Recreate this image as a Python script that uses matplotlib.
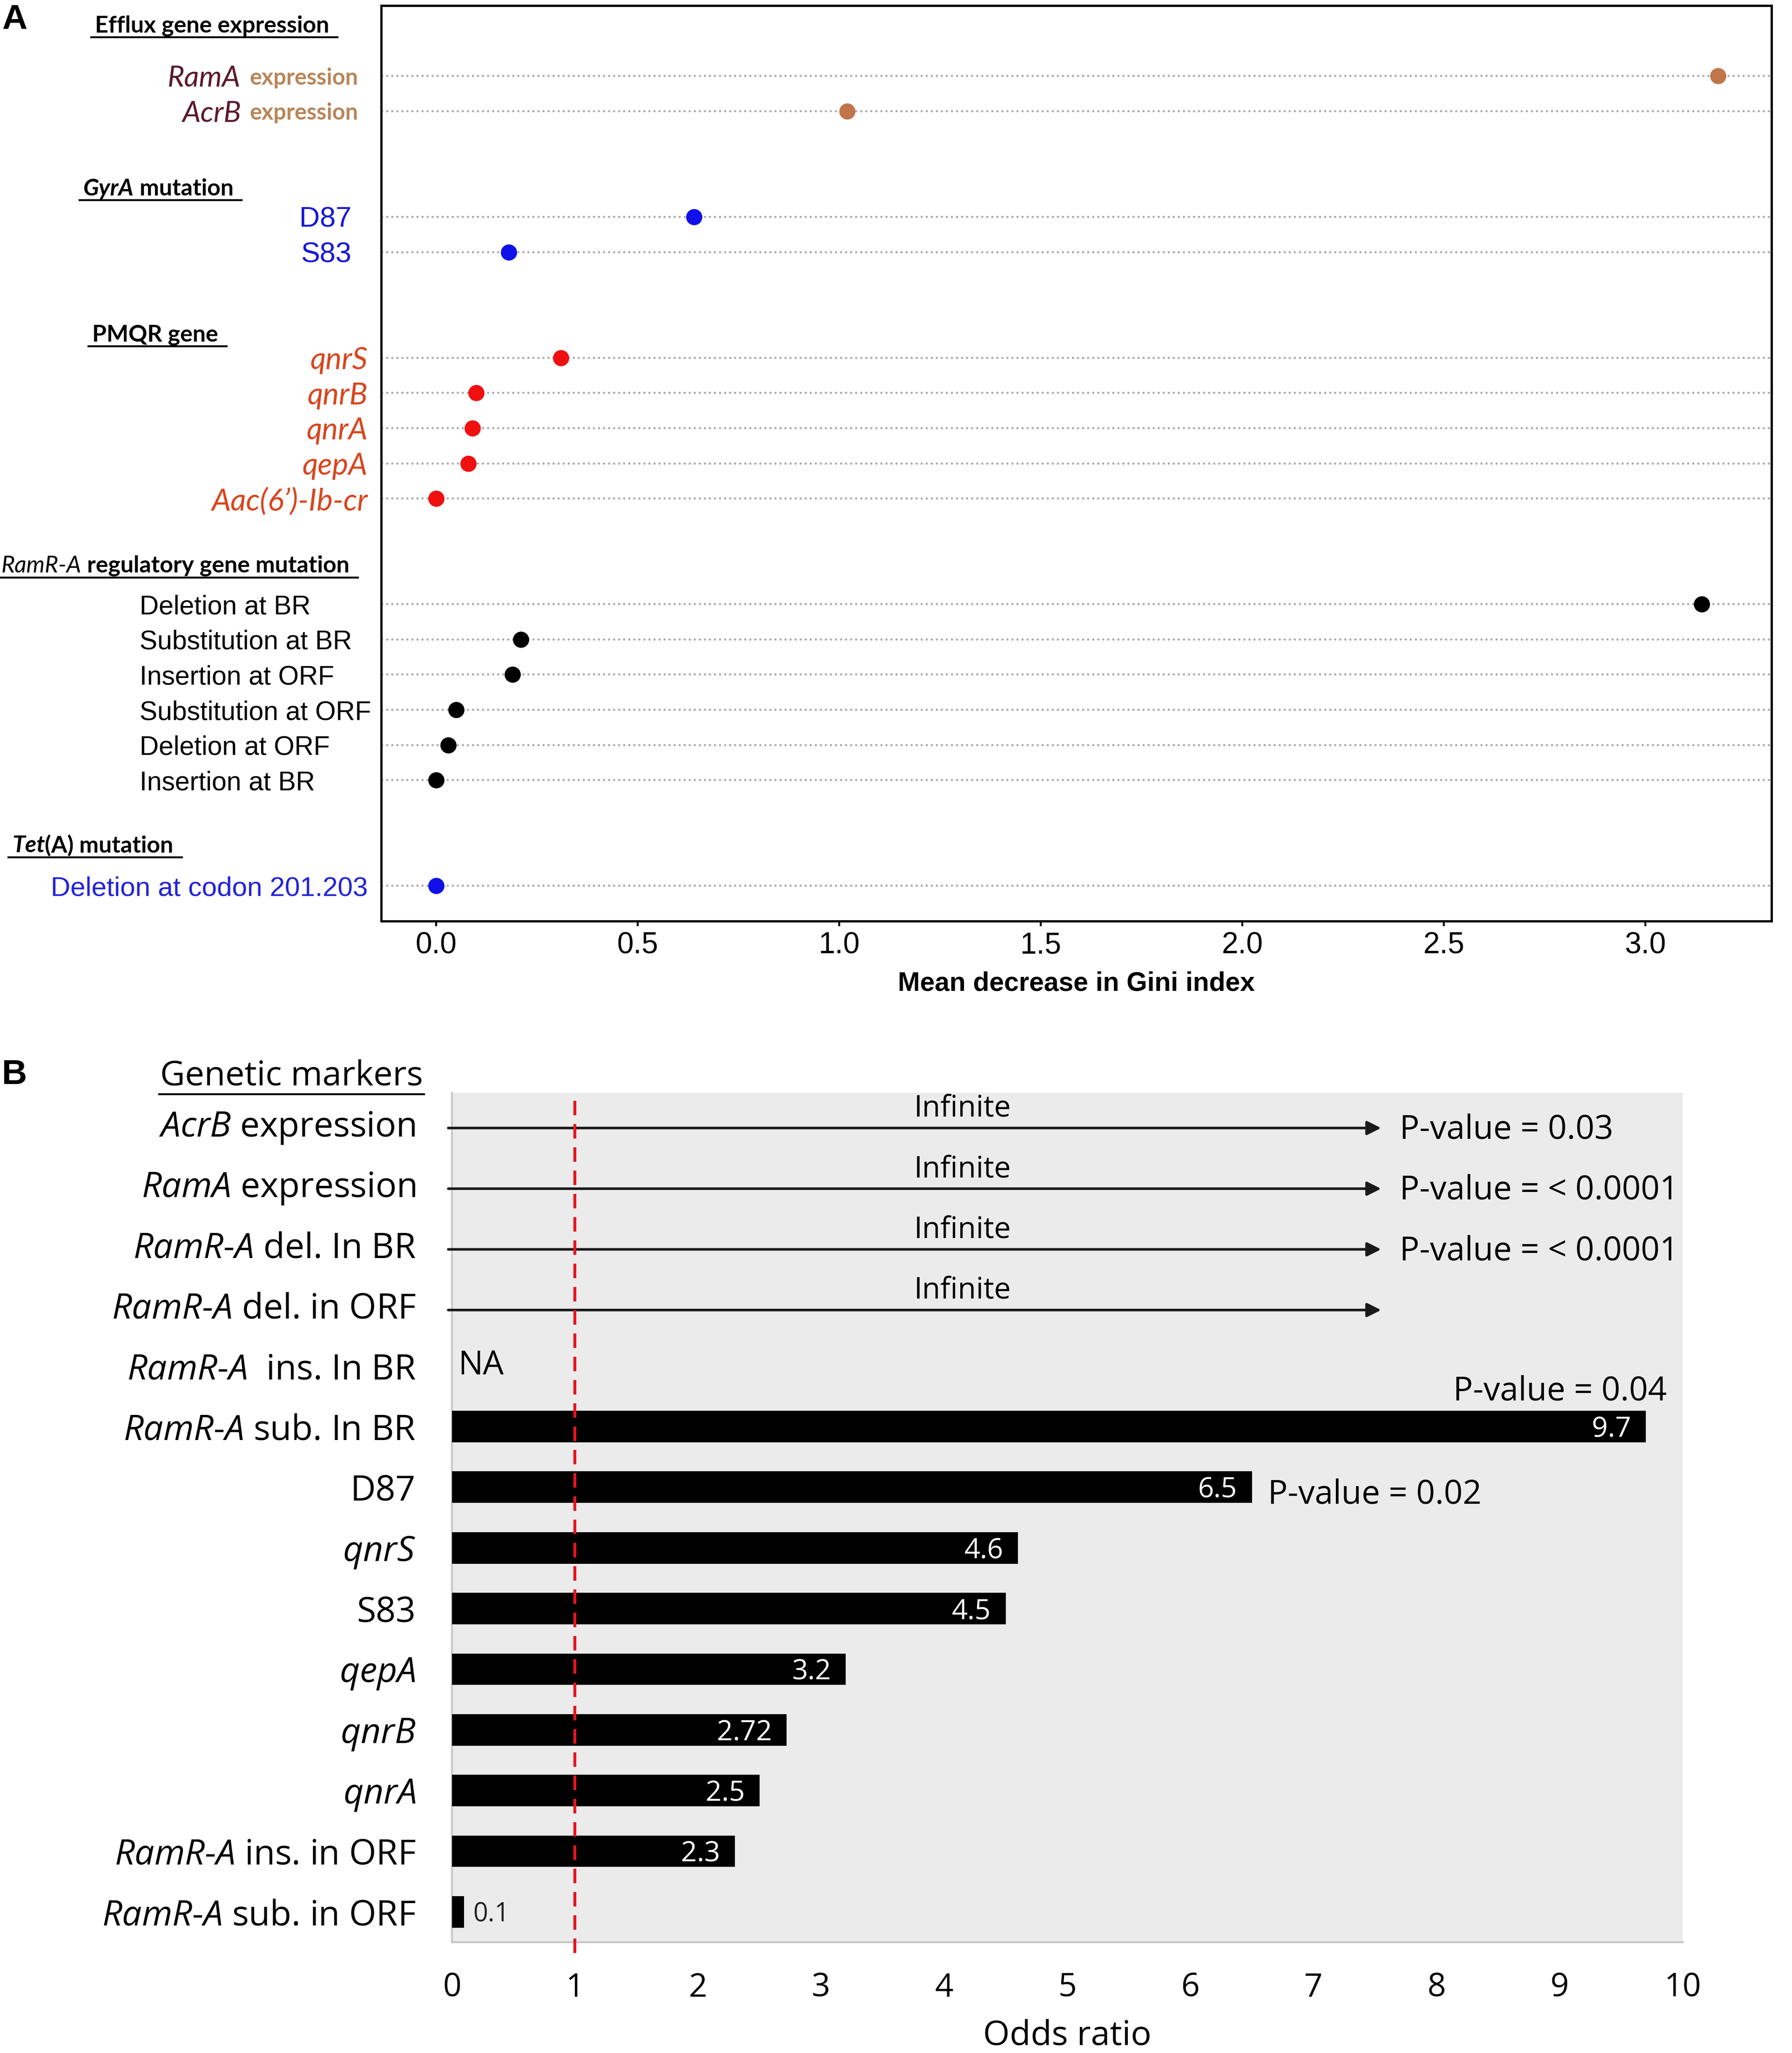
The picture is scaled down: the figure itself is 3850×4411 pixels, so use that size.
import numpy as np
import matplotlib
matplotlib.use("Agg")
import matplotlib.pyplot as plt
from matplotlib.lines import Line2D

plt.rcParams['mathtext.fontset'] = 'custom'
plt.rcParams['mathtext.rm'] = 'Open Sans'
plt.rcParams['mathtext.it'] = 'Open Sans:italic'
plt.rcParams['mathtext.bf'] = 'Open Sans:bold'

W, H = 3850, 4411  # output size in px (dpi 100)

# ---------------- panel A: mean decrease in Gini index ----------------
efflux_genes = ['RamA', 'AcrB']
efflux_gini = [3.18, 1.02]
gyra_sites = ['D87', 'S83']
gyra_gini = [0.64, 0.18]
pmqr_genes = ['qnrS', 'qnrB', 'qnrA', 'qepA', 'Aac(6\u2019)-Ib-cr']
pmqr_gini = [0.31, 0.10, 0.09, 0.08, 0.0]
ramr_muts = ['Deletion at BR', 'Substitution at BR', 'Insertion at ORF',
             'Substitution at ORF', 'Deletion at ORF', 'Insertion at BR']
ramr_gini = [3.14, 0.21, 0.19, 0.05, 0.03, 0.0]
tet_muts = ['Deletion at codon 201.203']
tet_gini = [0.0]
gini_ticks = [0.0, 0.5, 1.0, 1.5, 2.0, 2.5, 3.0]

# ---------------- panel B: odds ratio ----------------
or_markers = [r'$\mathit{AcrB}$ expression',
              r'$\mathit{RamA}$ expression',
              r'$\mathit{RamR}$-$\mathit{A}$ del. In BR',
              r'$\mathit{RamR}$-$\mathit{A}$ del. in ORF',
              r'$\mathit{RamR}$-$\mathit{A}$  ins. In BR',
              r'$\mathit{RamR}$-$\mathit{A}$ sub. In BR',
              'D87',
              r'$\mathit{qnrS}$',
              'S83',
              r'$\mathit{qepA}$',
              r'$\mathit{qnrB}$',
              r'$\mathit{qnrA}$',
              r'$\mathit{RamR}$-$\mathit{A}$ ins. in ORF',
              r'$\mathit{RamR}$-$\mathit{A}$ sub. in ORF']
odds_ratio = [np.inf, np.inf, np.inf, np.inf, np.nan, 9.7, 6.5, 4.6, 4.5,
              3.2, 2.72, 2.5, 2.3, 0.1]
p_values = ['0.03', '< 0.0001', '< 0.0001', None, None, '0.04', '0.02',
            None, None, None, None, None, None, None]
or_ticks = list(range(0, 11))
or_ref = 1

fig = plt.figure(figsize=(W / 100, H / 100), dpi=100)

CAL = 'Lato'
ARIAL = 'Liberation Sans'
OS = 'Open Sans'

# ====================== panel A ======================
AL, AR, AT, AB = 819, 3806, 12, 1979
axA = fig.add_axes([AL / W, 1 - AB / H, (AR - AL) / W, (AB - AT) / H])


def ax_frac(px):
    return (px - AL) / (AR - AL)


maroon, tan = '#5b1a2b', '#b98559'
groups = [
    dict(labels=efflux_genes, vals=efflux_gini, dot='#c0764a', anchor=('right', 770),
         header=[('Efflux gene expression', dict(weight='bold'))], hx=204, hoff=-1.48),
    dict(labels=gyra_sites, vals=gyra_gini, dot='#1010e8', anchor=('right', 755),
         header=[('GyrA', dict(weight='bold', style='italic')), (' mutation', dict(weight='bold'))],
         hx=179, hoff=-0.85),
    dict(labels=pmqr_genes, vals=pmqr_gini, dot='#f01010', anchor=('right', 790),
         header=[('PMQR gene', dict(weight='bold'))], hx=198, hoff=-0.71),
    dict(labels=ramr_muts, vals=ramr_gini, dot='black', anchor=('left', 300),
         header=[('RamR-A', dict(style='italic')), (' regulatory gene mutation', dict(weight='bold'))],
         hx=3, hoff=-1.15),
    dict(labels=tet_muts, vals=tet_gini, dot='#1010e8', anchor=('right', 790),
         header=[('Tet', dict(weight='bold', style='italic')), ('(A) mutation', dict(weight='bold'))],
         hx=26, hoff=-1.2),
]
label_styles = [
    None,
    dict(family=ARIAL, size=44, color='#1616dc'),
    dict(family=CAL, style='italic', size=47, color='#d8461e'),
    dict(family=ARIAL, size=41, color='black'),
    dict(family=ARIAL, size=42, color='#2222dc'),
]

ytr = axA.get_yaxis_transform()
header_texts = []
pos = 0
all_rows = []
for gi, g in enumerate(groups):
    rows = pos + np.arange(len(g['labels']))
    all_rows.extend(rows)
    axA.plot(g['vals'], rows, 'o', color=g['dot'], markersize=24, zorder=3,
             linestyle='none', clip_on=False)
    side, px = g['anchor']
    for r, lab in zip(rows, g['labels']):
        if gi == 0:
            t = axA.text(ax_frac(px), r, 'expression', transform=ytr, ha='right',
                         va='center_baseline', family=CAL, weight='bold', size=35, color=tan)
            axA.annotate(lab, xy=(0, r), xycoords=(t, 'data'), xytext=(-14, 0),
                         textcoords='offset points', ha='right', va='center_baseline',
                         family=CAL, style='italic', size=45, color=maroon)
        else:
            axA.text(ax_frac(px), r, lab, transform=ytr, ha=side, va='center_baseline',
                     **label_styles[gi])
    # group header
    hy = rows[0] + g['hoff']
    pieces = []
    first, kw = g['header'][0]
    t = axA.text(ax_frac(g['hx']), hy, first, transform=ytr, ha='left',
                 va='center_baseline', family=CAL, size=36, color='black', **kw)
    pieces.append(t)
    for s, kw in g['header'][1:]:
        t = axA.annotate(s, xy=(1, hy), xycoords=(t, 'data'), ha='left',
                         va='center_baseline', family=CAL, size=36, color='black', **kw)
        pieces.append(t)
    header_texts.append(pieces)
    pos = rows[-1] + 3

for r in all_rows:
    axA.axhline(r, color='#a8a8a8', lw=3, ls=(0, (1, 1.6)), zorder=1)

axA.set_xlim(-0.136, 3.313)
axA.set_ylim(all_rows[-1] + 1, -2)
axA.set_yticks([])
axA.set_xticks(gini_ticks)
axA.set_xticklabels([f'{v:.1f}' for v in gini_ticks], family=ARIAL, size=46)
axA.tick_params(axis='x', length=8, width=3, pad=8)
for s in axA.spines.values():
    s.set_linewidth(3.5)
axA.set_xlabel('Mean decrease in Gini index', family=ARIAL, weight='bold',
               size=41, labelpad=18)

# ====================== panel B ======================
BL, BR_, BT, BB = 971, 3615, 2348, 4173
axB = fig.add_axes([BL / W, 1 - BB / H, (BR_ - BL) / W, (BB - BT) / H])
axB.set_facecolor('#ebebeb')
n = len(or_markers)
rows = np.arange(n)
odds = np.array(odds_ratio, dtype=float)
fin = np.isfinite(odds)
axB.barh(rows[fin], odds[fin], height=0.52, color='black', zorder=3)

arrow_end = 7.55
for r, v, p in zip(rows, odds, p_values):
    if np.isinf(v):
        axB.annotate('', xy=(arrow_end, r + 0.08), xytext=(-0.03, r + 0.08),
                     arrowprops=dict(arrowstyle='-|>', color='#1a1a1a', lw=4,
                                     mutation_scale=45, shrinkA=0, shrinkB=0),
                     annotation_clip=False, zorder=4)
        axB.text(4.15, r - 0.24, 'Infinite', ha='center', va='center',
                 family=OS, size=46)
        if p:
            axB.text(arrow_end + 0.15, r + 0.12, f'P-value = {p}', ha='left',
                     va='center', family=OS, size=51)
    elif np.isnan(v):
        axB.text(0.05, r, 'NA', ha='left', va='center', family=OS, size=51)
    else:
        if v >= 1:
            axB.text(v - 0.12, r + 0.05, f'{v:g}', ha='right', va='center',
                     color='white', family=OS, size=43, zorder=5)
        else:
            axB.text(v + 0.07, r + 0.05, f'{v:g}', ha='left', va='center',
                     color='#222222', family=OS, size=40, zorder=5)
        if p:
            if v > 9:
                axB.text(v + 0.17, r - 0.57, f'P-value = {p}', ha='right',
                         va='center', family=OS, size=51)
            else:
                axB.text(v + 0.13, r + 0.13, f'P-value = {p}', ha='left',
                         va='center', family=OS, size=51)

axB.plot([or_ref, or_ref], [-0.37, n - 0.25], color='#e8141e', lw=4.5,
         ls=(0, (5, 3)), clip_on=False, zorder=6)

axB.set_xlim(0, 10)
axB.set_ylim(n - 0.5, -0.5)
axB.set_yticks(rows)
axB.set_yticklabels(or_markers, family=OS, size=54)
axB.set_xticks(or_ticks)
axB.set_xticklabels([str(t) for t in or_ticks], family=OS, size=50)
axB.tick_params(axis='y', length=0, pad=56)
axB.tick_params(axis='x', length=0, pad=46)
for side in ['top', 'right']:
    axB.spines[side].set_visible(False)
for side in ['left', 'bottom']:
    axB.spines[side].set_color('#c8c8c8')
    axB.spines[side].set_linewidth(3)
axB.set_xlabel('Odds ratio', family=OS, size=53, labelpad=22)

gm = fig.text(344 / W, 1 - 2312 / H, 'Genetic markers', ha='left', va='center',
              family=OS, size=53)

# panel letters
fig.text(4 / W, 1 - 8 / H, 'A', ha='left', va='top', family=ARIAL, weight='bold', size=54)
fig.text(4 / W, 1 - 2275 / H, 'B', ha='left', va='top', family=ARIAL, weight='bold', size=54)

# underlines (need text extents)
fig.canvas.draw()
rend = fig.canvas.get_renderer()
inv = fig.transFigure.inverted()


def underline(bbs, left_pad, right_pad, drop, lw):
    x0 = min(b.x0 for b in bbs) - left_pad
    x1 = max(b.x1 for b in bbs) + right_pad
    y = min(b.y0 for b in bbs) - drop
    (fx0, fy), (fx1, _) = inv.transform([(x0, y), (x1, y)])
    fig.add_artist(Line2D([fx0, fx1], [fy, fy], color='black', lw=lw))


for pieces in header_texts:
    underline([t.get_window_extent(rend) for t in pieces], 8, 18, 2, 3)
underline([gm.get_window_extent(rend)], 2, 2, 2, 3)

fig.savefig('out.png', dpi=100)
